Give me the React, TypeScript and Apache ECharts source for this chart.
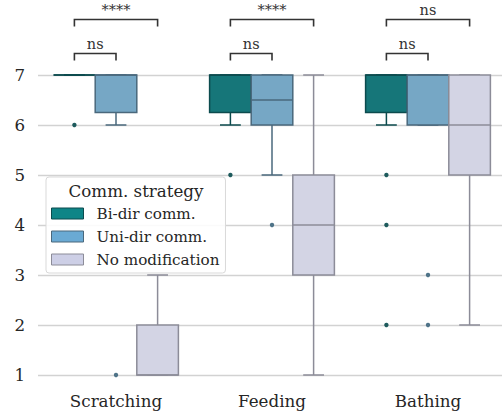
import React, { useEffect, useRef } from 'react';
import * as echarts from 'echarts';

const categories = ['Scratching', 'Feeding', 'Bathing'];
const groupNames = ['Bi-dir comm.', 'Uni-dir comm.', 'No modification'];
const yTicks = [1, 2, 3, 4, 5, 6, 7];

// [min, Q1, median, Q3, max] per category
const biDirStats = [
  [7, 7, 7, 7, 7],
  [6, 6.25, 7, 7, 7],
  [6, 6.25, 7, 7, 7],
];
const uniDirStats = [
  [6, 6.25, 7, 7, 7],
  [5, 6, 6.5, 7, 7],
  [6, 6, 7, 7, 7],
];
const noModStats = [
  [1, 1, 1, 2, 3],
  [1, 3, 4, 5, 7],
  [2, 5, 6, 7, 7],
];

// [categoryIndex, value]
const biDirOutliers = [[0, 6], [1, 5], [2, 5], [2, 4], [2, 2]];
const uniDirOutliers = [[0, 1], [1, 4], [2, 3], [2, 2]];
const noModOutliers: number[][] = [];

// significance brackets: [categoryIndex, fromGroup, toGroup, level]
const bracketData = [
  [0, 0, 1, 7.43],
  [0, 0, 2, 8.11],
  [1, 0, 1, 7.43],
  [1, 0, 2, 8.11],
  [2, 0, 1, 7.43],
  [2, 0, 2, 8.11],
];
const bracketLabels = ['ns', '****', 'ns', '****', 'ns', 'ns'];

const boxFill = ['#167679', '#76a7c5', '#d3d4e4'];
const boxEdge = ['#0c4b4e', '#4a687c', '#8c8c98'];
const outlierColor = ['#1d5a5c', '#4f7388', '#8c8c98'];
const legendFill = ['#0e8587', '#6aaad4', '#cdcfe6'];

const FONT = 'DejaVu Serif';
const TEXT = '#262626';
const GROUPS = 3;
const WIDTH_FRAC = 0.8;

function groupCenter(api: any, cat: number, g: number) {
  const x = api.coord([cat, 1])[0];
  const band = api.size([1, 0])[0];
  const w = (band * WIDTH_FRAC) / GROUPS;
  return { cx: x + (g - (GROUPS - 1) / 2) * w, w };
}

export default function App() {
  const ref = useRef<HTMLDivElement>(null);
  useEffect(() => {
    const chart = echarts.init(ref.current as HTMLDivElement, null, { renderer: 'svg' });
    const statsList = [biDirStats, uniDirStats, noModStats];
    const outlierList = [biDirOutliers, uniDirOutliers, noModOutliers];

    const boxSeries = statsList.map((stats, g) => ({
      type: 'custom',
      name: groupNames[g],
      coordinateSystem: 'cartesian2d',
      itemStyle: { color: legendFill[g] },
      data: stats.map((s, i) => [i, ...s]),
      encode: { x: 0, y: [1, 2, 3, 4, 5] },
      z: 3,
      renderItem: (params: any, api: any) => {
        const cat = api.value(0);
        const { cx, w } = groupCenter(api, cat, g);
        const y = (k: number) => api.coord([cat, api.value(k)])[1];
        const yMin = y(1), yQ1 = y(2), yMed = y(3), yQ3 = y(4), yMax = y(5);
        const stroke = { stroke: boxEdge[g], lineWidth: 1.5, fill: 'none' };
        const cap = w / 4;
        return {
          type: 'group',
          children: [
            { type: 'line', shape: { x1: cx, y1: yQ3, x2: cx, y2: yMax }, style: stroke },
            { type: 'line', shape: { x1: cx, y1: yQ1, x2: cx, y2: yMin }, style: stroke },
            { type: 'line', shape: { x1: cx - cap, y1: yMax, x2: cx + cap, y2: yMax }, style: stroke },
            { type: 'line', shape: { x1: cx - cap, y1: yMin, x2: cx + cap, y2: yMin }, style: stroke },
            {
              type: 'rect',
              shape: { x: cx - w / 2, y: yQ3, width: w, height: yQ1 - yQ3 },
              style: { fill: boxFill[g], stroke: boxEdge[g], lineWidth: 1.5 },
            },
            { type: 'line', shape: { x1: cx - w / 2, y1: yMed, x2: cx + w / 2, y2: yMed }, style: stroke },
          ],
        };
      },
    }));

    const outlierSeries = outlierList.map((pts, g) => ({
      type: 'custom',
      name: groupNames[g] + ' outliers',
      coordinateSystem: 'cartesian2d',
      data: pts,
      encode: { x: 0, y: 1 },
      z: 4,
      renderItem: (params: any, api: any) => {
        const cat = api.value(0);
        const { cx } = groupCenter(api, cat, g);
        const cy = api.coord([cat, api.value(1)])[1];
        return { type: 'circle', shape: { cx, cy, r: 2.2 }, style: { fill: outlierColor[g] } };
      },
    }));

    const bracketSeries = {
      type: 'custom',
      name: 'brackets',
      coordinateSystem: 'cartesian2d',
      data: bracketData,
      encode: { x: 0, y: 3 },
      z: 5,
      renderItem: (params: any, api: any) => {
        const cat = api.value(0);
        const a = groupCenter(api, cat, api.value(1)).cx;
        const b = groupCenter(api, cat, api.value(2)).cx;
        const level = api.value(3);
        const yBar = api.coord([cat, level])[1];
        const yTick = api.coord([cat, level - 0.14])[1];
        return {
          type: 'group',
          children: [
            {
              type: 'polyline',
              shape: { points: [[a, yTick], [a, yBar], [b, yBar], [b, yTick]] },
              style: { stroke: '#333333', lineWidth: 1.6, fill: 'none' },
            },
            {
              type: 'text',
              x: (a + b) / 2,
              y: yBar - 2,
              style: {
                text: bracketLabels[params.dataIndex],
                fontFamily: FONT,
                fontSize: 14.5,
                fill: '#333333',
                align: 'center',
                verticalAlign: 'bottom',
              },
            },
          ],
        };
      },
    };

    chart.setOption({
      animation: false,
      backgroundColor: '#ffffff',
      grid: { left: 38, top: 0, width: 468, height: 388, outerBoundsMode: 'none', containLabel: false },
      xAxis: {
        type: 'category',
        data: categories,
        axisLine: { show: false },
        axisTick: { show: false },
        splitLine: { show: false },
        axisLabel: { fontFamily: FONT, fontSize: 16.7, color: TEXT, margin: 4 },
      },
      yAxis: {
        type: 'value',
        min: 0.74,
        max: 8.5,
        axisLine: { show: false },
        axisTick: { show: false, customValues: yTicks },
        axisLabel: { fontFamily: FONT, fontSize: 16.7, color: TEXT, margin: 13, customValues: yTicks },
        splitLine: { show: true, lineStyle: { color: '#d2d2d2', width: 1.3 } },
      },
      legend: {
        orient: 'vertical',
        left: 46,
        top: 177,
        padding: [28, 6, 5, 5],
        itemWidth: 32,
        itemHeight: 11,
        itemGap: 6,
        icon: 'rect',
        backgroundColor: 'rgba(255,255,255,0.88)',
        borderColor: '#d9d9d9',
        borderWidth: 1,
        borderRadius: 3,
        selectedMode: false,
        textStyle: { fontFamily: FONT, fontSize: 15.2, color: TEXT, lineHeight: 17, padding: [0, 0, 0, 8] },
        data: groupNames.map((n, g) => ({
          name: n,
          itemStyle: { color: legendFill[g], borderColor: boxEdge[g], borderWidth: 1 },
        })),
        z: 10,
      },
      graphic: [
        {
          type: 'text',
          x: 136,
          y: 191,
          z: 100,
          style: {
            text: 'Comm. strategy',
            fontFamily: FONT,
            fontSize: 16.7,
            fill: TEXT,
            align: 'center',
            verticalAlign: 'middle',
          },
        },
      ],
      series: [...boxSeries, ...outlierSeries, bracketSeries],
    });
    return () => chart.dispose();
  }, []);
  return <div ref={ref} style={{ position: 'fixed', left: 0, top: 0, width: 502, height: 411 }} />;
}
